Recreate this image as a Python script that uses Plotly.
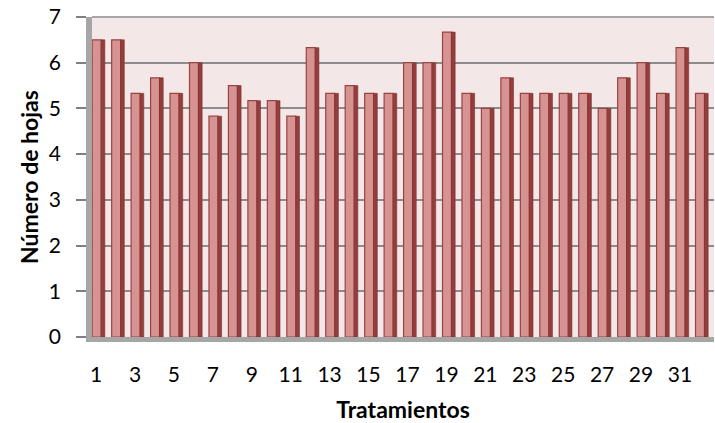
import plotly.graph_objects as go

tratamientos = list(range(1, 33))
hojas = [6.5, 6.5, 5.33, 5.67, 5.33, 6.0, 4.83, 5.5, 5.17, 5.17, 4.83, 6.33,
         5.33, 5.5, 5.33, 5.33, 6.0, 6.0, 6.67, 5.33, 5.0, 5.67, 5.33, 5.33,
         5.33, 5.33, 5.0, 5.67, 6.0, 5.33, 6.33, 5.33]
x_ticks = list(range(1, 32, 2))
y_ticks = list(range(0, 8))

fig = go.Figure()
# front face
fig.add_trace(go.Bar(
    x=tratamientos, y=hojas, width=0.46, offset=-0.2,
    marker=dict(color="#D69391", line=dict(color="#9A4442", width=1.2)),
    hoverinfo="x+y",
))
# darker side face (pseudo 3D)
fig.add_trace(go.Bar(
    x=tratamientos, y=hojas, width=0.19, offset=0.26,
    marker=dict(color="#933E3C", line=dict(color="#83302F", width=0.6)),
    hoverinfo="skip",
))

font = "Lato, Carlito, Calibri, sans-serif"
fig.update_layout(
    width=715, height=423,
    margin=dict(l=92, r=1, t=17, b=86),
    paper_bgcolor="white",
    plot_bgcolor="#F3E7E7",
    showlegend=False,
    barmode="overlay",
    font=dict(family=font, color="black"),
    xaxis=dict(
        range=[0.79, 32.75],
        tickmode="array", tickvals=x_ticks, ticktext=[str(v) for v in x_ticks],
        tickfont=dict(size=21),
        showgrid=False, zeroline=False,
        showline=True, linecolor="#A6A6A6", linewidth=5,
        ticks="", ticklabelstandoff=15,
        title=dict(text="<b>Tratamientos</b>", font=dict(size=23), standoff=18),
    ),
    yaxis=dict(
        range=[0, 7],
        tickmode="array", tickvals=y_ticks,
        ticktext=[f"{v}\u00a0\u00a0" for v in y_ticks],
        tickfont=dict(size=21),
        showgrid=True, gridcolor="#8C8C8C", gridwidth=2,
        zeroline=False,
        showline=True, linecolor="#A6A6A6", linewidth=6,
        ticks="outside", ticklen=10, tickcolor="#7F7F7F", tickwidth=2,
        title=dict(text="<b>Número de hojas</b>", font=dict(size=23), standoff=6),
    ),
)
fig.add_shape(type="line", xref="paper", yref="paper", x0=0, x1=1, y0=1, y1=1,
              line=dict(color="#A6A6A6", width=2))

fig.write_html("out.html")
